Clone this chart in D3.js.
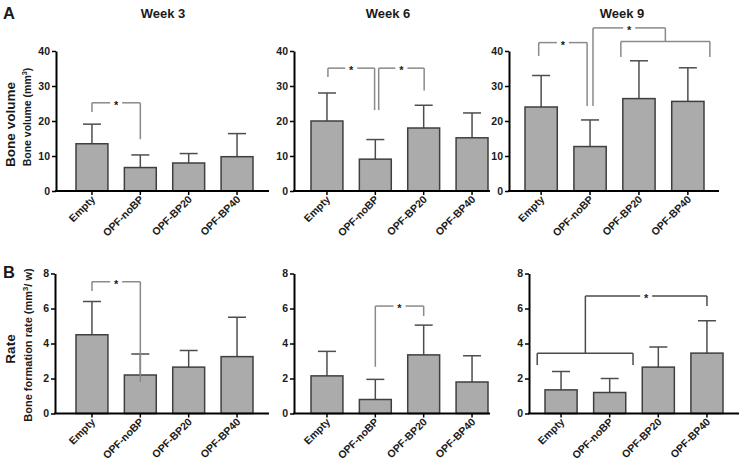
<!DOCTYPE html>
<html><head><meta charset="utf-8">
<script src="https://cdn.jsdelivr.net/npm/d3@7"></script>
<style>
body{margin:0;background:#fff}
text{font-family:"Liberation Sans",Arial,sans-serif;font-weight:bold;fill:#1a1a1a}
</style>
</head><body>
<svg id="chart" width="741" height="464"></svg>
<script>
// ---------------- data ----------------
const categories = ["Empty", "OPF-noBP", "OPF-BP20", "OPF-BP40"];
const weeks = ["Week 3", "Week 6", "Week 9"];

const volumeMeans = [
  [13.5, 6.7, 8.0, 9.8],
  [20.0, 9.1, 18.0, 15.2],
  [24.0, 12.7, 26.4, 25.6]
];
const volumeSD = [
  [5.6, 3.6, 2.7, 6.6],
  [8.0, 5.6, 6.5, 7.1],
  [9.0, 7.6, 10.8, 9.6]
];
const rateMeans = [
  [4.5, 2.2, 2.65, 3.25],
  [2.15, 0.8, 3.35, 1.8],
  [1.35, 1.2, 2.65, 3.45]
];
const rateSD = [
  [1.9, 1.2, 0.95, 2.25],
  [1.4, 1.15, 1.7, 1.5],
  [1.05, 0.8, 1.15, 1.85]
];
const volumeTicks = [0, 10, 20, 30, 40];
const rateTicks = [0, 2, 4, 6, 8];

// significance brackets: x1/x2 in category-index units, top/left/right in data units
const volumeBrackets = [
  [{x1: 0, x2: 1, top: 25.2, left: 22.6, right: 14.8, star: true}],
  [{x1: 0.02, x2: 0.985, top: 35.1, left: 32.6, right: 23.1, star: true},
   {x1: 1.07, x2: 2.01, top: 35.1, left: 23.1, right: 28.7, star: true}],
  [{x1: -0.05, x2: 0.94, top: 42.4, left: 38.6, right: 24.3, star: true},
   {x1: 1.06, x2: 2.54, top: 46.6, left: 24.3, right: 42.7, star: true},
   {x1: 1.63, x2: 3.45, top: 42.7, left: 38.3, right: 38.3, star: false}]
];
const rateBrackets = [
  [{x1: 0, x2: 1, top: 7.53, left: 7.0, right: 1.8, star: true}],
  [{x1: 1, x2: 2, top: 6.14, left: 2.67, right: 5.57, star: true}],
  [{x1: -0.49, x2: 1.48, top: 3.44, left: 2.77, right: 2.77, star: false},
   {x1: 0.5, x2: 3.0, top: 6.71, left: 3.44, right: 6.14, star: true}]
];

// ---------------- layout ----------------
const rows = [
  {means: volumeMeans, sd: volumeSD, ticks: volumeTicks, brackets: volumeBrackets,
   y0: 191, y1: 51, max: 40, bracketColor: ["#8a8a8a", "#8a8a8a", "#8a8a8a"]},
  {means: rateMeans, sd: rateSD, ticks: rateTicks, brackets: rateBrackets,
   y0: 413.5, y1: 273.5, max: 8, bracketColor: ["#8a8a8a", "#8a8a8a", "#4a4a4a"]}
];
const panelLayout = [
  [{axisX: 56, baseEnd: 269, bars: [76, 253]},
   {axisX: 294, baseEnd: 490, bars: [311, 488]},
   {axisX: 509, baseEnd: 719, bars: [525, 704]}],
  [{axisX: 55, baseEnd: 269, bars: [76, 253]},
   {axisX: 294, baseEnd: 490, bars: [311, 488]},
   {axisX: 529, baseEnd: 739, bars: [545, 723]}]
];

const svg = d3.select("#chart");

rows.forEach((row, ri) => {
  const y = d3.scaleLinear().domain([0, row.max]).range([row.y0, row.y1]);
  weeks.forEach((wk, wi) => {
    const L = panelLayout[ri][wi];
    const g = svg.append("g");
    const x = d3.scaleBand().domain(categories).range(L.bars).paddingInner(0.34).paddingOuter(0);
    const bw = x.bandwidth();
    const px = p => x(categories[0]) + bw / 2 + p * x.step();
    const data = categories.map((c, i) => ({c, m: row.means[wi][i], s: row.sd[wi][i]}));

    // error bars (drawn under bars)
    const eb = g.append("g").attr("stroke", "#4d4d4d").attr("stroke-width", 1.5).attr("fill", "none");
    data.forEach(d => {
      const cx = x(d.c) + bw / 2;
      eb.append("line").attr("x1", cx).attr("x2", cx).attr("y1", y(d.m)).attr("y2", y(d.m + d.s));
      eb.append("line").attr("x1", cx - 9).attr("x2", cx + 9).attr("y1", y(d.m + d.s)).attr("y2", y(d.m + d.s));
    });

    // bars
    g.selectAll("rect.bar").data(data).enter().append("rect")
      .attr("class", "bar")
      .attr("x", d => x(d.c)).attr("width", bw)
      .attr("y", d => y(d.m)).attr("height", d => y(0) - y(d.m))
      .attr("fill", "#ababab").attr("stroke", "#3f3f3f").attr("stroke-width", 1.5);

    // y axis
    const ya = g.append("g").attr("transform", `translate(${L.axisX},0)`)
      .call(d3.axisLeft(y).tickValues(row.ticks).tickSize(4).tickSizeOuter(0).tickPadding(2));
    ya.select(".domain").attr("stroke", "#000").attr("stroke-width", 2);
    ya.selectAll(".tick line").attr("stroke", "#000").attr("stroke-width", 1.5);
    ya.selectAll(".tick text").style("font-size", "10.5px").style("font-weight", "bold")
      .style("font-family", '"Liberation Sans",Arial,sans-serif').attr("fill", "#1a1a1a");

    // x axis baseline + ticks
    g.append("line").attr("x1", L.axisX - 1).attr("x2", L.baseEnd)
      .attr("y1", y(0)).attr("y2", y(0)).attr("stroke", "#000").attr("stroke-width", 2);
    const xa = g.append("g").attr("transform", `translate(0,${y(0)})`)
      .call(d3.axisBottom(x).tickSize(4).tickSizeOuter(0));
    xa.select(".domain").remove();
    xa.selectAll(".tick line").attr("stroke", "#000").attr("stroke-width", 1.5);
    xa.selectAll(".tick text")
      .style("font-size", "10.5px").style("font-weight", "bold")
      .style("font-family", '"Liberation Sans",Arial,sans-serif').attr("fill", "#1a1a1a")
      .attr("text-anchor", "end").attr("dy", null).attr("y", null)
      .attr("transform", "translate(4,9) rotate(-45)");

    // brackets
    const bc = row.bracketColor[wi];
    const bg = g.append("g").attr("stroke", bc).attr("stroke-width", 1.5).attr("fill", "none");
    row.brackets[wi].forEach(b => {
      const xa1 = px(b.x1), xa2 = px(b.x2), yt = y(b.top);
      bg.append("line").attr("x1", xa1).attr("x2", xa1).attr("y1", yt).attr("y2", y(b.left));
      bg.append("line").attr("x1", xa2).attr("x2", xa2).attr("y1", yt).attr("y2", y(b.right));
      if (b.star) {
        const mid = (xa1 + xa2) / 2;
        bg.append("line").attr("x1", xa1).attr("x2", mid - 6).attr("y1", yt).attr("y2", yt);
        bg.append("line").attr("x1", mid + 6).attr("x2", xa2).attr("y1", yt).attr("y2", yt);
        g.append("text").attr("x", mid).attr("y", yt + 6).attr("text-anchor", "middle")
          .style("font-size", "11px").text("*");
      } else {
        bg.append("line").attr("x1", xa1).attr("x2", xa2).attr("y1", yt).attr("y2", yt);
      }
    });
  });
});

// titles
const titleX = [163, 388, 622];
weeks.forEach((w, i) => {
  svg.append("text").attr("x", titleX[i]).attr("y", 18).attr("text-anchor", "middle")
    .style("font-size", "13px").text(w);
});
svg.append("text").attr("x", 3).attr("y", 19).style("font-size", "16.5px").text("A");
svg.append("text").attr("x", 3).attr("y", 278).style("font-size", "16.5px").text("B");

// row labels
function rotLabel(xb, yc, size, parts) {
  const t = svg.append("text").attr("transform", `translate(${xb},${yc}) rotate(-90)`)
    .attr("text-anchor", "middle").style("font-size", size + "px");
  parts.forEach(p => {
    const s = t.append("tspan").text(p.t);
    if (p.sup) s.attr("baseline-shift", "super").style("font-size", (size * 0.7) + "px");
  });
}
rotLabel(15, 124.5, 13.5, [{t: "Bone volume"}]);
rotLabel(31, 117, 10.5, [{t: "Bone volume (mm"}, {t: "3", sup: true}, {t: ")"}]);
rotLabel(15, 349, 13.5, [{t: "Rate"}]);
rotLabel(32, 345, 11, [{t: "Bone formation rate (mm"}, {t: "3", sup: true}, {t: "/ w)"}]);
</script>
</body></html>
